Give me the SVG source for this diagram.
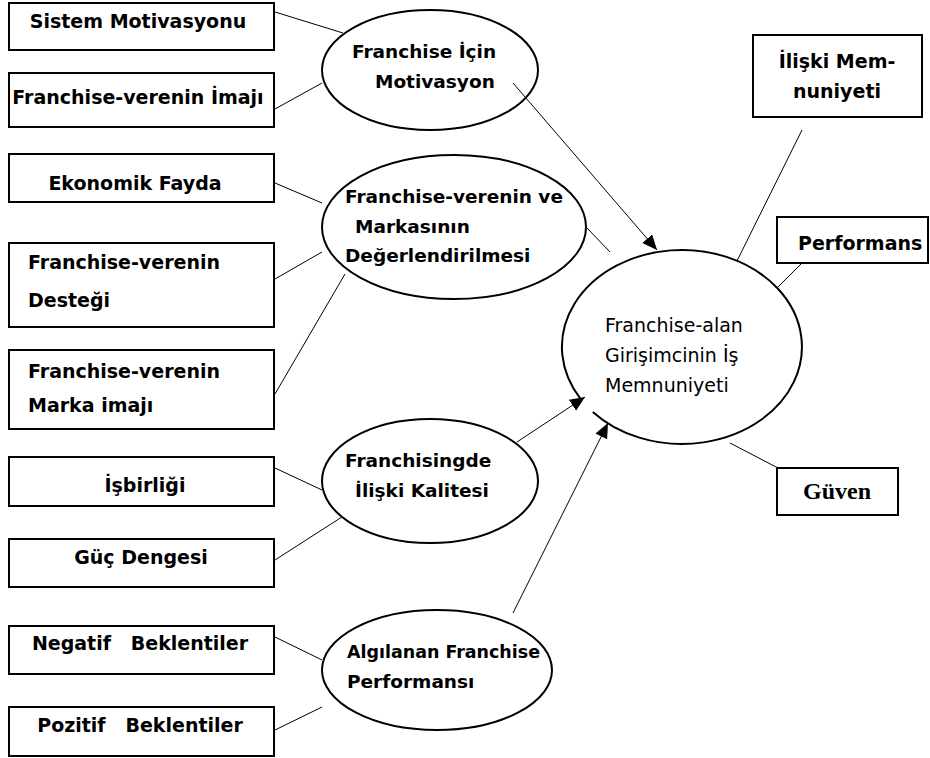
<svg xmlns="http://www.w3.org/2000/svg" width="930" height="758" viewBox="0 0 930 758">
<style>
.box{fill:#fff;stroke:#000;stroke-width:2}
.ell{fill:#fff;stroke:#000;stroke-width:2}
.ln{stroke:#000;stroke-width:1;fill:none}
.t{font-family:"DejaVu Sans","Liberation Sans",sans-serif;font-weight:bold;font-size:18.5px;fill:#000}
.b{font-size:19px}
.tc{text-anchor:middle}
.tr{font-family:"DejaVu Sans","Liberation Sans",sans-serif;font-size:19px;fill:#000}
.tg{font-family:"Liberation Serif","Times New Roman",serif;font-weight:bold;font-size:24px;fill:#000;text-anchor:middle}
</style>
<defs>
<marker id="ah" markerUnits="userSpaceOnUse" markerWidth="16" markerHeight="14" refX="15" refY="6.5" orient="auto">
<path d="M0,0 L15,6.5 L0,13 z" fill="#000"/>
</marker>
</defs>
<rect width="930" height="758" fill="#fff"/>

<g id="connectors">
<line class="ln" x1="275" y1="12" x2="343" y2="33"/>
<line class="ln" x1="275" y1="109" x2="322" y2="83"/>
<line class="ln" x1="275" y1="183" x2="322" y2="203"/>
<line class="ln" x1="275" y1="279" x2="322" y2="252"/>
<line class="ln" x1="275" y1="394" x2="345" y2="274"/>
<line class="ln" x1="275" y1="468" x2="322" y2="490"/>
<line class="ln" x1="275" y1="560" x2="345" y2="515"/>
<line class="ln" x1="275" y1="637" x2="322" y2="660"/>
<line class="ln" x1="275" y1="730" x2="322" y2="707"/>
<line class="ln" x1="587" y1="228" x2="610" y2="252"/>
<line class="ln" x1="802" y1="130" x2="730" y2="275"/>
<line class="ln" x1="778" y1="287" x2="802" y2="263"/>
<line class="ln" x1="730" y1="443" x2="778" y2="468"/>
</g>

<g id="n-sistem"><rect class="box" x="9" y="3" width="265" height="47"/><text class="t b tc" x="138" y="28">Sistem Motivasyonu</text></g>
<g id="n-imaji"><rect class="box" x="9" y="73" width="265" height="54"/><text class="t b tc" x="138" y="104">Franchise-verenin İmajı</text></g>
<g id="n-ekonomik"><rect class="box" x="9" y="154" width="265" height="48"/><text class="t b tc" x="135" y="190">Ekonomik Fayda</text></g>
<g id="n-destek"><rect class="box" x="9" y="243" width="265" height="84"/><text class="t b" x="28" y="269">Franchise-verenin</text><text class="t b" x="28" y="307">Desteği</text></g>
<g id="n-marka"><rect class="box" x="9" y="350" width="265" height="79"/><text class="t b" x="28" y="378">Franchise-verenin</text><text class="t b" x="28" y="412">Marka imajı</text></g>
<g id="n-isbirligi"><rect class="box" x="9" y="457" width="265" height="49"/><text class="t b tc" x="145" y="492">İşbirliği</text></g>
<g id="n-guc"><rect class="box" x="9" y="539" width="265" height="48"/><text class="t b tc" x="141" y="564">Güç Dengesi</text></g>
<g id="n-negatif"><rect class="box" x="9" y="626" width="265" height="48"/><text class="t b tc" x="140" y="650" xml:space="preserve">Negatif   Beklentiler</text></g>
<g id="n-pozitif"><rect class="box" x="9" y="707" width="265" height="49"/><text class="t b tc" x="140" y="732" xml:space="preserve">Pozitif   Beklentiler</text></g>

<g id="e-motivasyon"><ellipse class="ell" cx="430" cy="70" rx="108" ry="60"/><text class="t" x="352" y="58">Franchise İçin</text><text class="t" x="375" y="88">Motivasyon</text></g>
<g id="e-degerlendirme"><ellipse class="ell" cx="454" cy="227" rx="132" ry="72"/><text class="t" x="345" y="203">Franchise-verenin ve</text><text class="t" x="355" y="233">Markasının</text><text class="t" x="345" y="262">Değerlendirilmesi</text></g>
<g id="e-iliski"><ellipse class="ell" cx="430" cy="481" rx="108" ry="62"/><text class="t" x="345" y="467">Franchisingde</text><text class="t" x="355" y="497">İlişki Kalitesi</text></g>
<g id="e-algilanan"><ellipse class="ell" cx="437" cy="670" rx="115" ry="60"/><text class="t" x="347" y="658" textLength="193" lengthAdjust="spacingAndGlyphs">Algılanan Franchise</text><text class="t" x="347" y="688">Performansı</text></g>

<g id="e-is-memnuniyeti"><path class="ell" d="M592.8,411.9 A120,97 0 1 0 580.2,398.4"/><text class="tr" x="605" y="332">Franchise-alan</text><text class="tr" x="605" y="362">Girişimcinin İş</text><text class="tr" x="605" y="392">Memnuniyeti</text></g>

<g id="n-iliski-mem"><rect class="box" x="753" y="35" width="169" height="82"/><text class="t b tc" x="837" y="68">İlişki Mem-</text><text class="t b tc" x="837" y="98">nuniyeti</text></g>
<g id="n-performans"><rect class="box" x="777" y="217" width="151" height="46"/><text class="t b" x="798" y="250">Performans</text></g>
<g id="n-guven"><rect class="box" x="777" y="468" width="121" height="47"/><text class="tg" x="837" y="499">Güven</text></g>

<g id="arrows">
<line class="ln" x1="513" y1="83" x2="657" y2="250" marker-end="url(#ah)"/>
<line class="ln" x1="517" y1="442" x2="585" y2="397" marker-end="url(#ah)"/>
<line class="ln" x1="513" y1="613" x2="608" y2="423" marker-end="url(#ah)"/>
</g>
</svg>
